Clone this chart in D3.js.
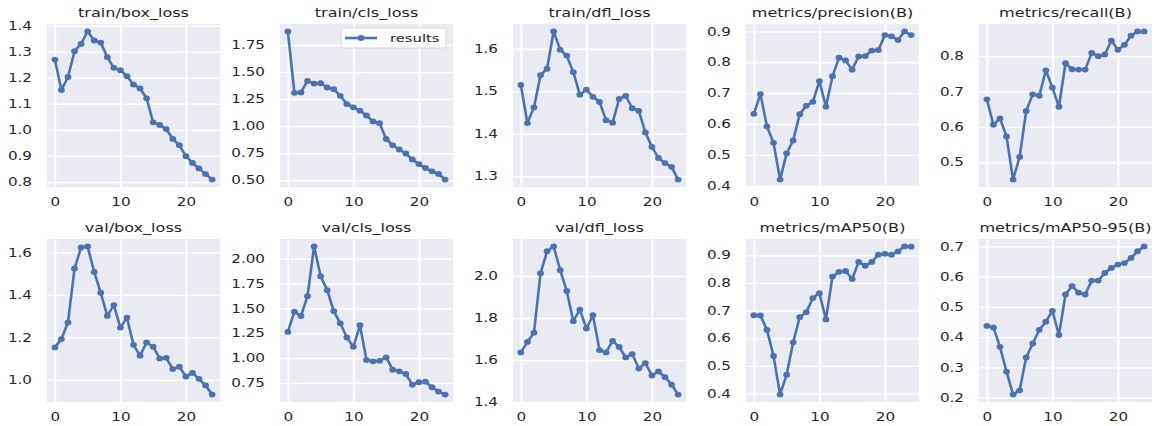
<!DOCTYPE html>
<html><head><meta charset="utf-8">
<script src="https://cdn.jsdelivr.net/npm/d3@7/dist/d3.min.js"></script>
<style>
html,body{margin:0;padding:0;background:#fff;}
svg text{font-family:"DejaVu Sans",sans-serif;fill:#262626;}
</style></head><body>
<svg id="chart" width="1156" height="426"></svg>
<script>
// ---- data ----
const epochs = [0,1,2,3,4,5,6,7,8,9,10,11,12,13,14,15,16,17,18,19,20,21,22,23,24];
const titles = ["train/box_loss","train/cls_loss","train/dfl_loss","metrics/precision(B)","metrics/recall(B)",
                "val/box_loss","val/cls_loss","val/dfl_loss","metrics/mAP50(B)","metrics/mAP50-95(B)"];
const trainBoxLoss = [1.270,1.153,1.203,1.302,1.330,1.378,1.343,1.335,1.279,1.238,1.229,1.206,1.174,1.159,1.121,1.029,1.019,1.003,0.965,0.941,0.899,0.873,0.852,0.830,0.809];
const trainClsLoss = [1.875,1.308,1.311,1.418,1.393,1.396,1.357,1.341,1.280,1.204,1.174,1.143,1.098,1.043,1.027,0.881,0.823,0.784,0.747,0.692,0.649,0.613,0.582,0.558,0.506];
const trainDflLoss = [1.515,1.425,1.462,1.538,1.553,1.641,1.598,1.584,1.545,1.492,1.504,1.487,1.475,1.432,1.426,1.482,1.489,1.460,1.454,1.403,1.369,1.343,1.331,1.322,1.292];
const precisionB = [0.633,0.697,0.592,0.539,0.420,0.505,0.547,0.632,0.659,0.672,0.739,0.656,0.755,0.815,0.806,0.776,0.819,0.820,0.838,0.840,0.888,0.884,0.872,0.900,0.888];
const recallB = [0.678,0.606,0.624,0.573,0.451,0.515,0.645,0.692,0.688,0.760,0.711,0.657,0.780,0.763,0.762,0.762,0.809,0.800,0.805,0.844,0.818,0.832,0.858,0.870,0.870];
const valBoxLoss = [1.153,1.192,1.270,1.524,1.623,1.628,1.508,1.410,1.301,1.352,1.246,1.293,1.165,1.114,1.176,1.156,1.101,1.104,1.051,1.062,1.016,1.033,1.005,0.974,0.931];
const valClsLoss = [1.263,1.467,1.423,1.623,2.123,1.823,1.683,1.473,1.350,1.207,1.113,1.330,0.980,0.967,0.973,1.007,0.883,0.867,0.840,0.733,0.757,0.763,0.707,0.663,0.633];
const valDflLoss = [1.636,1.686,1.730,2.013,2.118,2.141,2.028,1.929,1.785,1.840,1.750,1.813,1.647,1.636,1.691,1.662,1.612,1.628,1.559,1.585,1.526,1.545,1.518,1.482,1.435];
const mAP50B = [0.683,0.682,0.630,0.536,0.396,0.468,0.585,0.676,0.694,0.745,0.763,0.668,0.823,0.840,0.843,0.814,0.876,0.862,0.876,0.902,0.905,0.902,0.914,0.932,0.931];
const mAP5095B = [0.437,0.432,0.368,0.286,0.210,0.224,0.333,0.379,0.424,0.451,0.487,0.407,0.541,0.569,0.547,0.541,0.587,0.587,0.612,0.629,0.640,0.645,0.662,0.684,0.700];
const seriesList = [trainBoxLoss,trainClsLoss,trainDflLoss,precisionB,recallB,valBoxLoss,valClsLoss,valDflLoss,mAP50B,mAP5095B];

const xTickLabels = ["0","10","20"];
const yTicksTrainBox = ["0.8","0.9","1.0","1.1","1.2","1.3","1.4"];
const yTicksTrainCls = ["0.50","0.75","1.00","1.25","1.50","1.75"];
const yTicksTrainDfl = ["1.3","1.4","1.5","1.6"];
const yTicksPrecision = ["0.4","0.5","0.6","0.7","0.8","0.9"];
const yTicksRecall = ["0.5","0.6","0.7","0.8"];
const yTicksValBox = ["1.0","1.2","1.4","1.6"];
const yTicksValCls = ["0.75","1.00","1.25","1.50","1.75","2.00"];
const yTicksValDfl = ["1.4","1.6","1.8","2.0"];
const yTicksMAP50 = ["0.4","0.5","0.6","0.7","0.8","0.9"];
const yTicksMAP5095 = ["0.2","0.3","0.4","0.5","0.6","0.7"];
const yTickList = [yTicksTrainBox,yTicksTrainCls,yTicksTrainDfl,yTicksPrecision,yTicksRecall,yTicksValBox,yTicksValCls,yTicksValDfl,yTicksMAP50,yTicksMAP5095];
const legendLabel = "results";

// ---- layout ----
const svg = d3.select("#chart");
const color = "#4C72B0";
const plotW = 173, plotH = 163;
const colLeft0 = 47, colStep = 233;
const rowTops = [24, 239];
const sx = 1.32; // horizontal text stretch of the reference

function pad(ext){ const r = ext[1]-ext[0]; return [ext[0]-0.05*r, ext[1]+0.05*r]; }

seriesList.forEach((vals, i) => {
  const col = i % 5, row = Math.floor(i / 5);
  const x0 = colLeft0 + col*colStep, y0 = rowTops[row];
  const x = d3.scaleLinear().domain(pad(d3.extent(epochs))).range([x0, x0+plotW]);
  const y = d3.scaleLinear().domain(pad(d3.extent(vals))).range([y0+plotH, y0]);
  const g = svg.append("g");

  g.append("rect").attr("x", x0).attr("y", y0).attr("width", plotW).attr("height", plotH).attr("fill", "#EAEAF2");

  const yLabels = yTickList[i];
  const ya = g.append("g").attr("transform", `translate(${x0},0)`)
    .call(d3.axisLeft(y).tickValues(yLabels.map(Number)).tickSize(-plotW).tickPadding(15/sx)
      .tickFormat((d, k) => yLabels[k]));
  ya.select(".domain").remove();
  ya.selectAll(".tick line").attr("stroke", "#fff").attr("stroke-width", 1.4);
  ya.selectAll(".tick text").attr("font-size", 11.5).attr("fill", "#262626")
    .attr("font-family", "DejaVu Sans").attr("transform", `scale(${sx},1)`);

  const xa = g.append("g").attr("transform", `translate(0,${y0+plotH})`)
    .call(d3.axisBottom(x).tickValues(xTickLabels.map(Number)).tickSize(-plotH).tickPadding(10.5)
      .tickFormat((d, k) => xTickLabels[k]));
  xa.select(".domain").remove();
  xa.selectAll(".tick line").attr("stroke", "#fff").attr("stroke-width", 1.8);
  xa.selectAll(".tick text").attr("font-size", 11.5).attr("fill", "#262626")
    .attr("font-family", "DejaVu Sans").attr("transform", `scale(${sx},1)`);

  g.append("text").attr("transform", `translate(${x0+plotW/2},${y0-7.3}) scale(1.34,1)`)
    .attr("text-anchor", "middle").attr("font-size", 12).text(titles[i]);

  const line = d3.line().x((d, k) => x(epochs[k])).y(d => y(d));
  g.append("path").datum(vals).attr("d", line).attr("fill", "none").attr("stroke", color)
    .attr("stroke-width", 2.6).attr("stroke-linejoin", "round");
  g.selectAll("ellipse.pt").data(vals).join("ellipse").attr("class", "pt")
    .attr("cx", (d, k) => x(epochs[k])).attr("cy", d => y(d)).attr("rx", 3.4).attr("ry", 2.9).attr("fill", color);

  if (i === 1) {
    const right = x0 + plotW;
    const lg = g.append("g");
    lg.append("rect").attr("x", right-112).attr("y", y0+4).attr("width", 105).attr("height", 20)
      .attr("rx", 2.5).attr("fill", "#FBFBFC").attr("stroke", "#D6D6DC").attr("stroke-width", 1);
    lg.append("line").attr("x1", right-108).attr("x2", right-76).attr("y1", y0+14).attr("y2", y0+14)
      .attr("stroke", color).attr("stroke-width", 2.6);
    lg.append("ellipse").attr("cx", right-92).attr("cy", y0+14).attr("rx", 3.4).attr("ry", 2.9).attr("fill", color);
    lg.append("text").attr("transform", `translate(${right-63},${y0+18}) scale(${sx},1)`)
      .attr("font-size", 11.2).text(legendLabel);
  }
});
</script>
</body></html>
